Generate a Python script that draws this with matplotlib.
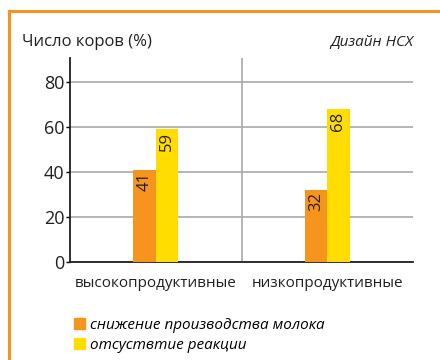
import matplotlib.pyplot as plt
from matplotlib.patches import Patch
from matplotlib.lines import Line2D
import numpy as np

plt.rcParams['font.family'] = ['Open Sans', 'DejaVu Sans']

categories = ["высокопродуктивные", "низкопродуктивные"]
series_names = ["снижение производства молока", "отсуствтие реакции"]
milk_drop = [41, 32]
no_reaction = [59, 68]
colors = ["#F7941D", "#FFDD00"]

fig = plt.figure(figsize=(4.4, 3.6), dpi=100)
ax = fig.add_axes([70 / 440, 1 - 262 / 360, 343 / 440, 204 / 360])

x = np.arange(len(categories))
w = 0.13
b1 = ax.bar(x - w / 2, milk_drop, w, color=colors[0], zorder=3)
b2 = ax.bar(x + w / 2, no_reaction, w, color=colors[1], zorder=3)

# value labels, rotated, at the top of each bar
for bars, vals in ((b1, milk_drop), (b2, no_reaction)):
    for r, v in zip(bars, vals):
        ax.text(r.get_x() + r.get_width() / 2, v - 1.0, str(v), rotation=90,
                ha="center", va="top", fontsize=12, color="#231F20", zorder=4)

ax.set_xlim(-0.5, 1.5)
ax.set_ylim(0, 90.7)
ax.set_yticks([0, 20, 40, 60, 80])
ax.set_xticks(x)
ax.set_xticklabels(categories, fontsize=11, color="#231F20")
ax.tick_params(axis="x", length=0, pad=10)
ax.tick_params(axis="y", length=3, width=1, labelsize=13, labelcolor="#231F20", pad=1)
ax.yaxis.grid(True, color="#A7A9AC", linewidth=1.2, zorder=0)
ax.axvline(0.5, color="#A7A9AC", linewidth=1.2, zorder=0)
for s in ["top", "right"]:
    ax.spines[s].set_visible(False)
for s in ["left", "bottom"]:
    ax.spines[s].set_color("#231F20")
    ax.spines[s].set_linewidth(1.3)

fig.text(22 / 440, 1 - 42 / 360, "Число коров (%)", fontsize=12, color="#231F20", va="center")
fig.text(413 / 440, 1 - 42 / 360, "Дизайн НСХ", fontsize=11, style="italic",
         color="#231F20", va="center", ha="right")

handles = [Patch(color=c) for c in colors]
fig.legend(handles, series_names, loc="upper left", bbox_to_anchor=(66 / 440, 1 - 310 / 360),
           frameon=False, prop={"size": 11, "style": "italic"}, handlelength=0.75,
           handleheight=0.75, handletextpad=0.3, labelspacing=0.35, borderpad=0)

# orange frame (top and left edges)
fig.add_artist(Line2D([9 / 440, 1], [1 - 11 / 360] * 2, color="#F7941D", linewidth=2.2))
fig.add_artist(Line2D([9 / 440] * 2, [0, 1 - 11 / 360], color="#F7941D", linewidth=2.2))

fig.savefig("out.png", dpi=100)
